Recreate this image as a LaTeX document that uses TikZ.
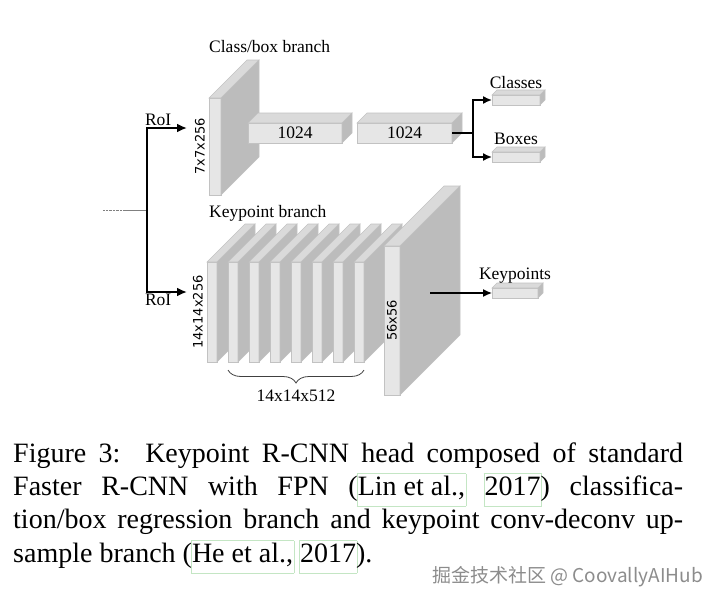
\documentclass[tikz,border=0pt]{standalone}
\usepackage{fontspec}
\setmainfont{Liberation Serif}
\newfontfamily\dimfont{DejaVu Sans}
\newfontfamily\cjkfont{Noto Sans CJK SC}
\usepackage{tikz}
\usetikzlibrary{arrows.meta,positioning,calc,decorations.pathreplacing}

\definecolor{facefront}{HTML}{E6E6E6}
\definecolor{facetop}{HTML}{DADADA}
\definecolor{faceside}{HTML}{BCBCBC}
\definecolor{faceedge}{HTML}{C2C2C2}
\definecolor{linkgreen}{HTML}{C4E6C4}

% layer box: name, x, y (front top left), width, height, depth, text
\newcommand{\layerbox}[7]{%
  \node[frontface,minimum width=#4pt,minimum height=#5pt,anchor=north west] (#1) at (#2,#3) {#7};
  \filldraw[topface] (#1.north west) -- ++(#6,-#6) -- ($(#1.north east)+(#6,-#6)$) -- (#1.north east) -- cycle;
  \filldraw[sideface] (#1.north east) -- ++(#6,-#6) -- ($(#1.south east)+(#6,-#6)$) -- (#1.south east) -- cycle;
}

% green link frame round a citation
\newsavebox{\citesave}
\newcommand{\citebox}[1]{\leavevmode\sbox{\citesave}{#1}%
  \rlap{\kern-1.2pt\raisebox{-0.37em}{\color{linkgreen}\fboxsep=0.6pt\fboxrule=0.6pt\fbox{\rule{0pt}{1.1em}\rule{\wd\citesave}{0pt}}}}\usebox{\citesave}}

\begin{document}
\begin{tikzpicture}[
  x=1pt,y=-1pt,
  frontface/.style={draw=faceedge,fill=facefront,line width=0.6pt,inner sep=0pt,outer sep=0pt,font=\fontsize{17.5}{17.5}\selectfont},
  topface/.style={draw=faceedge,fill=facetop,line width=0.6pt},
  sideface/.style={draw=faceedge,fill=faceside,line width=0.6pt},
  lbl/.style={inner sep=1pt,font=\fontsize{17.5}{17.5}\selectfont},
  dim/.style={inner sep=1pt,rotate=90,font=\dimfont\fontsize{13}{13}\selectfont},
  roi/.style={line width=2pt,-{Latex[length=10pt,width=9pt]}},
  arr/.style={line width=1.6pt,-{Latex[length=9pt,width=8pt]}},
  capline/.style={anchor=base west,inner sep=0pt,font=\fontsize{28}{33}\selectfont}
]
  \useasboundingbox (0,0) rectangle (720,605);

  % class/box branch
  \layerbox{roi7}{209}{98}{12}{97}{38}{}
  \layerbox{fcA}{248}{123}{94}{20}{10}{1024}
  \layerbox{fcB}{357}{123}{95}{20}{10}{1024}
  \layerbox{cls}{492}{95}{48}{10}{5}{}
  \layerbox{box}{492}{152}{48}{10}{5}{}
  \node[lbl,anchor=west] (clsbranch) at (208,47) {Class/box branch};
  \node[dim,anchor=south] (dim7) at ([xshift=-3pt]roi7.west) {7x7x256};
  \node[lbl,above=5pt of cls] (clslbl) {Classes};
  \node[lbl,above=6pt of box] (boxlbl) {Boxes};
  \draw[arr] (fcB.east) -- ++(21,0) |- (cls.west);
  \draw[arr] (fcB.east) -- ++(21,0) |- (box.west);

  % keypoint branch
  \foreach \i in {1,...,8}{
    \pgfmathtruncatemacro\kx{186+21*\i}
    \layerbox{kp\i}{\kx}{262}{10}{100}{38}{}
  }
  \layerbox{up56}{384}{246}{16}{149}{60}{}
  \layerbox{kpt}{492}{288}{46}{10}{5}{}
  \node[lbl,anchor=west] (kpbranch) at (208,213) {Keypoint branch};
  \node[dim,anchor=south] (dim14) at ([xshift=-3pt]kp1.west) {14x14x256};
  \node[dim] (dim56) at (up56.center) {56x56};
  \node[lbl,above=4pt of kpt] (kptlbl) {Keypoints};
  \draw[decorate,decoration={brace,mirror,amplitude=13pt},draw=black!75,line width=0.8pt]
    ([yshift=-8pt]kp2.south west) -- ([yshift=-8pt]kp8.south east)
    node[lbl,midway,below=19pt] (convlbl) {14x14x512};
  \coordinate (kpsrc) at (430,293);
  \draw[arr,line width=1.3pt] (kpsrc) -- (kpt.west);

  % RoI input
  \coordinate (feat) at (103,210);
  \coordinate (featend) at (125,210);
  \coordinate (split) at (147,210);
  \coordinate (roiA) at (187,128);
  \coordinate (roiB) at (187,292);
  \draw[gray,densely dotted] (feat) -- (featend);
  \draw[gray] (featend) -- (split);
  \draw[roi] (split) |- (roiA) node[lbl,pos=0.64,above] {RoI};
  \draw[roi] (split) |- (roiB) node[lbl,pos=0.64,below] {RoI};

  % caption
  \node[capline] (cap1) at (13,462) {\makebox[670pt][s]{Figure 3:\ \ Keypoint R-CNN head composed of standard}};
  \node[capline] (cap2) at (13,495) {\makebox[670pt][s]{Faster R-CNN with FPN (\citebox{Lin et al.,} \citebox{2017}) classifica-}};
  \node[capline] (cap3) at (13,528) {\makebox[670pt][s]{tion/box regression branch and keypoint conv-deconv up-}};
  \node[capline] (cap4) at (13,562) {sample branch (\citebox{He et al.,} \citebox{2017}).};
  \node[anchor=east,inner sep=0pt,text=black!45,font=\cjkfont\fontsize{19}{19}\selectfont] (mark) at (703,577) {掘金技术社区 @ CoovallyAIHub};
\end{tikzpicture}
\end{document}
